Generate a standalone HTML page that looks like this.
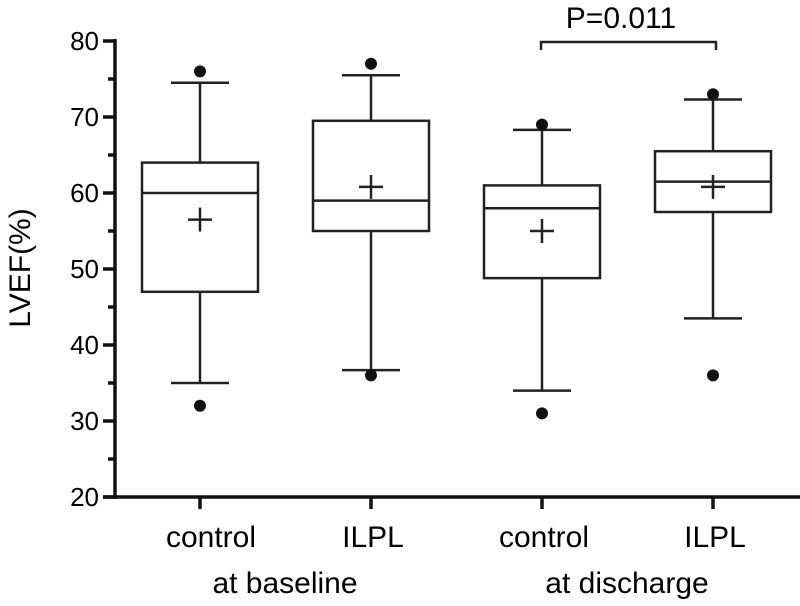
<!DOCTYPE html>
<html><head><meta charset="utf-8"><style>
html,body{margin:0;padding:0;background:#fff;width:800px;height:606px;overflow:hidden}
svg{font-family:"Liberation Sans",Arial,sans-serif}
</style></head><body>
<svg id="chart" width="800" height="606" viewBox="0 0 800 606">
<text x="30" y="268" font-size="30" text-anchor="middle" transform="rotate(-90 30 268)">LVEF(%)</text>
<g id="axes"></g><g id="boxes"></g>
<g>
<path d="M541 50 V42 H716 V50" fill="none" stroke="#222" stroke-width="2.5"/>
<text x="621" y="28" font-size="30" text-anchor="middle">P=0.011</text>
</g>
<text x="285" y="593" font-size="30" text-anchor="middle">at baseline</text>
<text x="627" y="593" font-size="30" text-anchor="middle">at discharge</text>
</svg>
<script>
const categories=["control","ILPL","control","ILPL"];
const whiskerLow=[35,36.7,34,43.5];
const q1=[47,55,48.8,57.5];
const median=[60,59,58,61.5];
const q3=[64,69.5,61,65.5];
const whiskerHigh=[74.5,75.5,68.3,72.3];
const means=[56.5,60.8,55,60.8];
const outliersLow=[32,36,31,36];
const outliersHigh=[76,77,69,73];
const yTicks=[20,30,40,50,60,70,80];
const yMinor=[25,35,45,55,65,75];
const NS="http://www.w3.org/2000/svg";
const y=v=>497-(v-20)*(456/60);
const x=i=>200+i*171;
function mk(p,t,a){const e=document.createElementNS(NS,t);for(const k in a)e.setAttribute(k,a[k]);p.appendChild(e);return e;}
const ax=document.getElementById('axes'),bx=document.getElementById('boxes');
const S={stroke:"#111","stroke-width":3.5};
const yl=mk(ax,'line',{x1:115,x2:115,y1:y(80)-2,y2:y(20)+2,...S});


const xl=mk(ax,'line',{x1:103,x2:800,y1:y(20),y2:y(20),...S});


yTicks.forEach(v=>{
 const t=mk(ax,'line',{x1:103,x2:115,y1:y(v),y2:y(v),...S});
 
 
 const l=mk(ax,'text',{x:99,y:y(v)+9,"font-size":26,"text-anchor":"end"});l.textContent=v;
 
 
});
yMinor.forEach(v=>{
 const t=mk(ax,'line',{x1:108,x2:115,y1:y(v),y2:y(v),...S});
 
 
});
categories.forEach((c,i)=>{
 const cx=x(i);
 const t=mk(ax,'line',{x1:cx,x2:cx,y1:y(20),y2:y(20)+12,...S});
 
 
 const l=mk(ax,'text',{x:cx+(i===0?11:2),y:547,"font-size":30,"text-anchor":"middle"});l.textContent=c;
 
 
 const g=mk(bx,'g',{fill:"none",stroke:"#222","stroke-width":2.5});
 
 
 mk(g,'rect',{x:cx-58,y:y(q3[i]),width:116,height:y(q1[i])-y(q3[i])});
 mk(g,'line',{x1:cx-58,x2:cx+58,y1:y(median[i]),y2:y(median[i])});
 mk(g,'line',{x1:cx,x2:cx,y1:y(q3[i]),y2:y(whiskerHigh[i])});
 mk(g,'line',{x1:cx,x2:cx,y1:y(q1[i]),y2:y(whiskerLow[i])});
 mk(g,'line',{x1:cx-29,x2:cx+29,y1:y(whiskerHigh[i]),y2:y(whiskerHigh[i])});
 mk(g,'line',{x1:cx-29,x2:cx+29,y1:y(whiskerLow[i]),y2:y(whiskerLow[i])});
 mk(g,'line',{x1:cx-12,x2:cx+12,y1:y(means[i]),y2:y(means[i])});
 mk(g,'line',{x1:cx,x2:cx,y1:y(means[i])-12,y2:y(means[i])+12});
 [outliersLow[i],outliersHigh[i]].forEach(v=>{
  const d=mk(bx,'circle',{cx:cx,cy:y(v),r:6,fill:"#111"});
  
  
 });
});
</script>
</body></html>
